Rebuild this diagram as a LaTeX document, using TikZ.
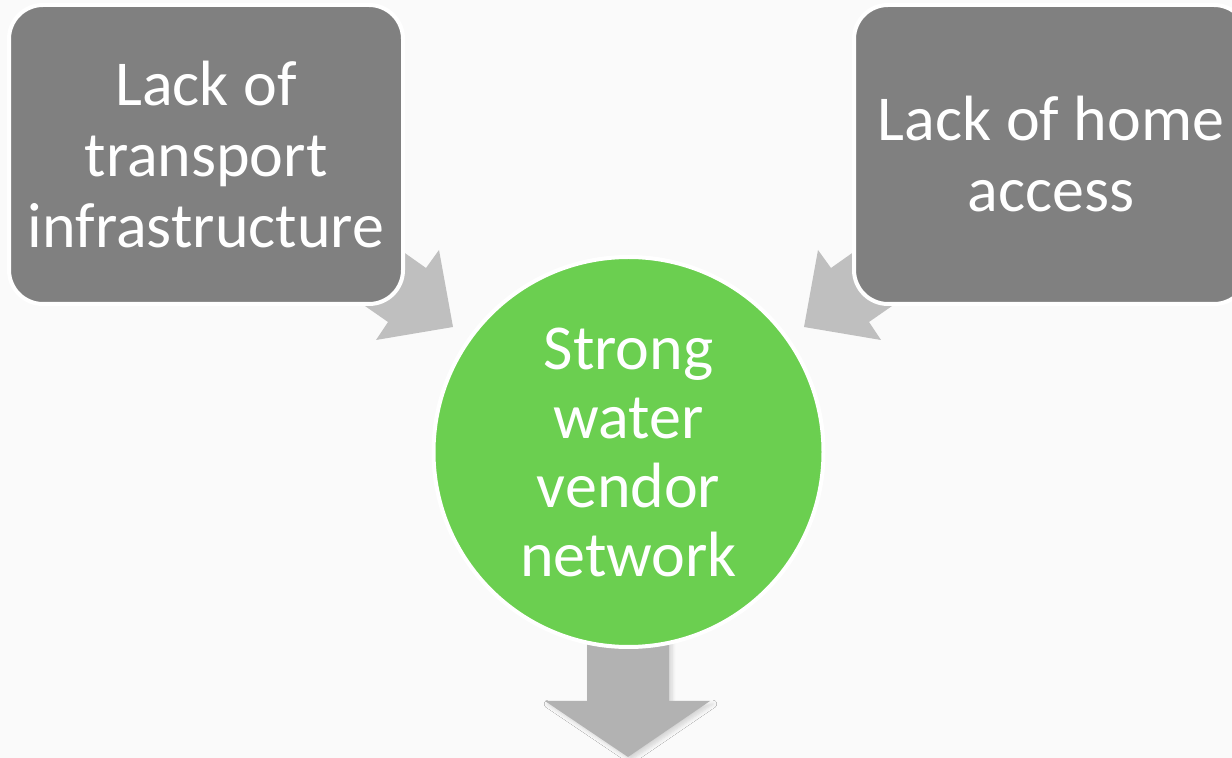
\documentclass[tikz,border=0pt]{standalone}
\usepackage{fontspec}
\setmainfont{Carlito}
\usetikzlibrary{shadows.blur}

\definecolor{pagebg}{RGB}{250,250,250}
\definecolor{boxgray}{RGB}{128,128,128}
\definecolor{vendorgreen}{RGB}{107,207,80}
\definecolor{arrowgray}{RGB}{191,191,191}
\definecolor{downgray}{RGB}{178,178,178}

\tikzset{
  cause/.style={draw=white, line width=2pt, fill=boxgray, rounded corners=17pt,
    minimum width=197pt, minimum height=149.5pt, text=white, align=center,
    font=\fontsize{32}{35.5}\selectfont},
  result/.style={circle, draw=white, line width=2pt, fill=vendorgreen,
    minimum size=195pt, inner sep=0pt, text=white, align=center,
    font=\fontsize{32}{34.5}\selectfont},
  blockarrow/.style={fill=arrowgray, draw=none},
}

\begin{document}
\begin{tikzpicture}[x=0.5pt, y=-0.5pt]
\clip (0,0) rectangle (1232,758);
\fill[pagebg] (0,0) rectangle (1232,758);

% arrows first, the boxes sit on top of their tails
\fill[blockarrow] (306,265) -- (388,322) -- (376,340) -- (453,327)
  -- (439,250) -- (426,268) -- (344,210) -- cycle;
\fill[blockarrow] (951,265) -- (869,322) -- (881,340) -- (804,327)
  -- (818,250) -- (831,268) -- (913,210) -- cycle;
\fill[downgray, blur shadow={shadow xshift=1.5pt, shadow yshift=-1.5pt,
  shadow opacity=15, shadow blur steps=6}]
  (587,600) -- (669,600) -- (669,701) -- (710,701) -- (628,757)
  -- (545,701) -- (587,701) -- cycle;

\node[cause] (transport) at (206,154.5) {Lack of\\transport\\infrastructure};
\node[cause] (home) at (1051,154.5) {Lack of home\\access};
\node[result] (vendor) at (628.5,452) {Strong\\water\\vendor\\network};
\end{tikzpicture}
\end{document}
